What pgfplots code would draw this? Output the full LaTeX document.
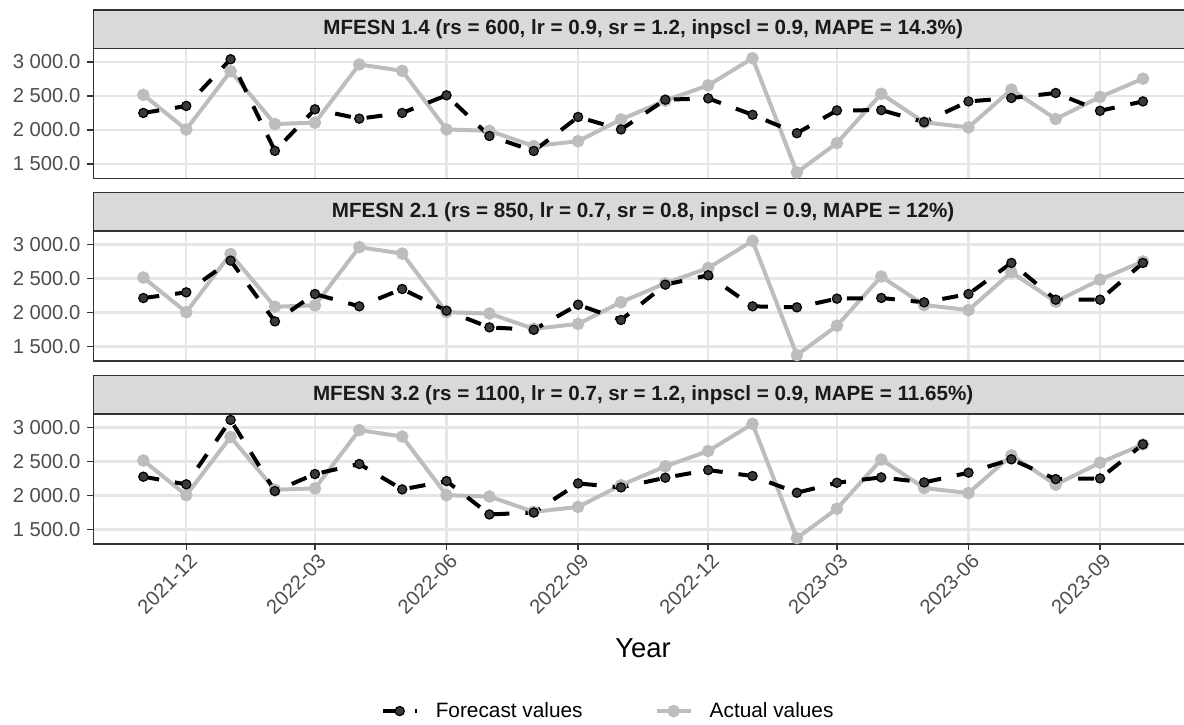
\documentclass[border=0pt]{standalone}
\usepackage{pgfplots}
\pgfplotsset{compat=1.18}
\usepackage{pgfplotstable}
\usepgfplotslibrary{dateplot}
\usepackage{fontspec}
\setmainfont{Liberation Sans}

\definecolor{actgray}{HTML}{BDBDBD}
\definecolor{fcfill}{HTML}{3A3A3A}
\definecolor{stripfill}{HTML}{D9D9D9}
\definecolor{border}{HTML}{333333}
\definecolor{gridc}{HTML}{E6E6E6}
\definecolor{ticktext}{HTML}{4D4D4D}
\definecolor{striptext}{HTML}{1A1A1A}

\pgfplotstableread{
date        actual  mfesnA  mfesnB  mfesnC
2021-11-01  2515    2248    2213    2277
2021-12-01  2005    2351    2297    2164
2022-01-01  2862    3039    2764    3113
2022-02-01  2085    1690    1869    2065
2022-03-01  2105    2302    2272    2316
2022-04-01  2962    2164    2091    2464
2022-05-01  2868    2248    2346    2090
2022-06-01  2005    2508    2027    2213
2022-07-01  1985    1909    1781    1721
2022-08-01  1760    1688    1746    1750
2022-09-01  1832    2189    2115    2178
2022-10-01  2152    2005    1890    2119
2022-11-01  2430    2443    2410    2262
2022-12-01  2655    2463    2548    2375
2023-01-01  3055    2221    2091    2287
2023-02-01  1373    1950    2076    2041
2023-03-01  1805    2285    2204    2188
2023-04-01  2530    2290    2214    2267
2023-05-01  2110    2113    2150    2193
2023-06-01  2036    2418    2272    2336
2023-07-01  2592    2468    2730    2533
2023-08-01  2159    2542    2189    2242
2023-09-01  2484    2280    2189    2252
2023-10-01  2752    2418    2730    2754
}\data

\pgfplotsset{
  panel/.style={
    scale only axis, width=549.85pt, height=65pt, anchor=north west,
    date coordinates in=x,
    xmin=2021-09-27, xmax=2023-11-05,
    ymin=1286, ymax=3200,
    clip=false,
    xtick={2021-12-01,2022-03-01,2022-06-01,2022-09-01,2022-12-01,2023-03-01,2023-06-01,2023-09-01},
    ytick={1500,2000,2500,3000},
    yticklabels={1 500.0,2 000.0,2 500.0,3 000.0},
    minor tick num=0,
    grid=major,
    major grid style={draw=gridc, line width=1.1pt},
    axis line style={draw=border, line width=0.75pt},
    tick align=outside,
    major tick length=3pt,
    tick style={draw=border, line width=0.75pt},
    xtick pos=bottom, ytick pos=left,
    y tick label style={font=\fontsize{10.1}{12}\selectfont, text=ticktext, inner sep=0pt, xshift=-3.3pt},
    x tick label style={font=\fontsize{10.1}{12}\selectfont, text=ticktext, rotate=45, anchor=north east, inner sep=0pt, yshift=-1.5pt},
  },
  actual/.style={draw=actgray, line width=2pt, mark=*, mark size=2.1pt, mark options={solid, fill=actgray, draw=actgray}},
  fc/.style={draw=black, line width=2pt, dash pattern=on 8pt off 8pt, mark=*, mark size=2.3pt, mark options={solid, fill=fcfill, draw=black, line width=0.6pt}},
}

\newcommand{\strip}[1]{%
  \draw[fill=stripfill, draw=border, line width=0.75pt] (rel axis cs:0,1) rectangle ([yshift=19.15pt]rel axis cs:1,1);
  \node[font=\bfseries\fontsize{10.3}{12}\selectfont, text=striptext, inner sep=0pt] at ([yshift=9.6pt]rel axis cs:0.5,1) {#1};
}

\begin{document}
\begin{tikzpicture}
\begin{axis}[panel, at={(46.65pt,-24.15pt)}, xmajorticks=false]
  \addplot[actual] table[x=date, y=actual] {\data};
  \addplot[fc] table[x=date, y=mfesnA] {\data};
  \strip{MFESN 1.4 (rs = 600, lr = 0.9, sr = 1.2, inpscl = 0.9, MAPE = 14.3\%)}
\end{axis}

\begin{axis}[panel, at={(46.65pt,-115.5pt)}, xmajorticks=false]
  \addplot[actual] table[x=date, y=actual] {\data};
  \addplot[fc] table[x=date, y=mfesnB] {\data};
  \strip{MFESN 2.1 (rs = 850, lr = 0.7, sr = 0.8, inpscl = 0.9, MAPE = 12\%)}
\end{axis}

\begin{axis}[panel, at={(46.65pt,-207pt)},
  xticklabels={2021-12,2022-03,2022-06,2022-09,2022-12,2023-03,2023-06,2023-09},
  xlabel={Year},
  xlabel style={font=\fontsize{13.7}{16}\selectfont, at={(axis description cs:0.5,0)}, anchor=center, yshift=-52pt},
  reverse legend,
  legend style={draw=none, fill=none, font=\fontsize{10.4}{12}\selectfont,
    at={(0.469,-1.285)}, anchor=center, legend columns=2,
    /tikz/column 1/.style={column sep=6.5pt},
    /tikz/column 2/.style={column sep=34pt},
    /tikz/column 3/.style={column sep=6.5pt}},
  legend cell align=left,
]
  \addplot[actual] table[x=date, y=actual] {\data};
  \addlegendentry{Actual values}
  \addplot[fc] table[x=date, y=mfesnC] {\data};
  \addlegendentry{Forecast values}
  \strip{MFESN 3.2 (rs = 1100, lr = 0.7, sr = 1.2, inpscl = 0.9, MAPE = 11.65\%)}
\end{axis}
\pgfresetboundingbox
\useasboundingbox (0,0) rectangle (592pt,-362pt);
\end{tikzpicture}
\end{document}
